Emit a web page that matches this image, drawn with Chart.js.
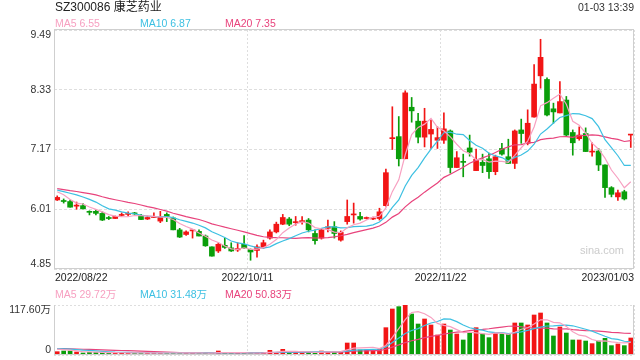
<!DOCTYPE html>
<html>
<head>
<meta charset="utf-8">
<script src="https://cdn.jsdelivr.net/npm/chart.js@4/dist/chart.umd.min.js"></script>
<style>
    html, body { margin: 0; padding: 0; background: #fff; }
    #wrap { position: relative; width: 640px; height: 360px; }
    #wrap canvas { position: absolute; left: 0; top: 0; }
</style>
</head>
<body>
<div id="wrap">
    <canvas id="kline" width="640" height="360"></canvas>
    <canvas id="volume" width="640" height="360"></canvas>
</div>
<script>
// Daily candles, 2022/08/22 .. 2023/01/03 (90 trading days)
const opens = [6.19, 6.18, 6.16, 6.07, 6.08, 5.96, 5.97, 5.93, 5.84, 5.83,
    5.89, 5.91, 5.94, 5.89, 5.82, 5.85, 5.78, 5.91, 5.84, 5.61,
    5.52, 5.59, 5.58, 5.49, 5.28, 5.20, 5.31, 5.26, 5.22, 5.33,
    5.23, 5.21, 5.27, 5.45, 5.57, 5.72, 5.82, 5.75, 5.77, 5.80,
    5.54, 5.45, 5.64, 5.67, 5.41, 5.77, 5.90, 5.87, 5.83, 5.82,
    5.83, 6.08, 7.38, 7.42, 6.99, 7.99, 7.72, 7.41, 7.47, 7.35,
    7.35, 7.53, 6.82, 6.93, 7.20, 6.76, 6.92, 6.99, 6.74, 7.19,
    7.03, 6.90, 7.55, 7.29, 7.80, 8.60, 8.53, 7.96, 7.88, 8.13,
    7.50, 7.38, 7.48, 7.12, 7.14, 6.87, 6.43, 6.25, 6.35, 7.45];
const closes = [6.24, 6.16, 6.05, 6.09, 6.02, 5.95, 5.93, 5.80, 5.83, 5.87,
    5.90, 5.92, 5.92, 5.81, 5.85, 5.86, 5.86, 5.87, 5.61, 5.47,
    5.57, 5.60, 5.49, 5.30, 5.10, 5.33, 5.27, 5.20, 5.25, 5.26,
    5.18, 5.28, 5.36, 5.57, 5.72, 5.85, 5.72, 5.76, 5.78, 5.61,
    5.40, 5.61, 5.67, 5.54, 5.56, 5.87, 5.91, 5.82, 5.84, 5.84,
    5.96, 6.72, 7.40, 6.99, 8.27, 7.92, 7.41, 7.72, 7.56, 7.40,
    7.57, 6.82, 7.01, 6.92, 7.12, 6.98, 6.86, 6.74, 7.03, 7.08,
    6.90, 7.53, 7.48, 7.68, 8.44, 8.96, 7.84, 7.90, 8.10, 7.45,
    7.30, 7.45, 7.13, 7.13, 6.87, 6.43, 6.30, 6.33, 6.21, 7.45];
const highs = [6.27, 6.21, 6.19, 6.15, 6.12, 5.98, 6.00, 5.96, 5.87, 5.88,
    5.94, 5.96, 5.95, 5.91, 5.88, 5.94, 5.97, 5.94, 5.86, 5.64,
    5.59, 5.61, 5.61, 5.51, 5.28, 5.36, 5.45, 5.36, 5.36, 5.50,
    5.24, 5.32, 5.41, 5.61, 5.76, 5.91, 5.85, 5.87, 5.87, 5.83,
    5.61, 5.64, 5.80, 5.77, 5.59, 6.19, 6.13, 5.95, 5.86, 5.86,
    6.03, 6.79, 8.00, 7.81, 8.31, 8.18, 7.87, 7.97, 7.74, 7.61,
    7.88, 7.55, 7.13, 7.08, 7.45, 7.18, 7.08, 7.10, 7.06, 7.29,
    7.37, 7.55, 7.76, 7.94, 8.82, 9.31, 8.56, 8.07, 8.49, 8.20,
    7.55, 7.61, 7.59, 7.30, 7.19, 6.87, 6.45, 6.38, 6.38, 7.45];
const lows = [6.18, 6.13, 6.05, 6.01, 6.01, 5.90, 5.90, 5.79, 5.81, 5.83,
    5.88, 5.88, 5.91, 5.81, 5.81, 5.85, 5.75, 5.77, 5.61, 5.46,
    5.50, 5.45, 5.49, 5.29, 5.10, 5.17, 5.25, 5.19, 5.19, 5.25,
    5.02, 5.08, 5.25, 5.43, 5.55, 5.71, 5.69, 5.70, 5.72, 5.57,
    5.33, 5.43, 5.57, 5.45, 5.39, 5.72, 5.74, 5.80, 5.82, 5.81,
    5.80, 6.07, 7.17, 6.85, 6.99, 7.70, 7.30, 7.22, 7.19, 7.19,
    7.29, 6.71, 6.82, 6.64, 7.04, 6.76, 6.72, 6.61, 6.68, 7.06,
    6.90, 6.80, 7.29, 7.26, 7.80, 8.36, 7.82, 7.68, 7.88, 7.42,
    7.06, 7.35, 7.13, 7.04, 6.76, 6.24, 6.25, 6.18, 6.19, 7.21];
// volume in 万 shares
const volumes = [7.8, 9.4, 9.4, 7.1, 4.7, 6.3, 6.3, 6.3, 4.7, 4.7,
    4.7, 5.5, 4.7, 4.7, 4.7, 5.5, 4.7, 4.7, 5.5, 4.7,
    4.7, 4.7, 4.7, 4.7, 3.9, 9.4, 4.7, 4.7, 4.7, 4.7,
    4.7, 4.7, 6.3, 11.0, 6.3, 13.3, 6.3, 6.3, 6.3, 6.3,
    6.3, 9.4, 7.8, 7.8, 7.8, 28.2, 28.2, 11.8, 11.8, 11.0,
    13.3, 64.3, 108.2, 113.7, 117.6, 96.4, 72.9, 84.7, 70.6, 47.0,
    72.9, 58.8, 49.4, 35.3, 53.3, 64.3, 49.4, 40.8, 53.3, 49.4,
    49.4, 75.3, 75.3, 70.6, 94.1, 98.8, 75.3, 44.7, 65.9, 51.7,
    35.3, 35.3, 32.9, 26.7, 32.9, 39.2, 22.0, 25.9, 22.0, 40.0];
const closesBefore = [6.52, 6.48, 6.40, 6.45, 6.38, 6.42, 6.50, 6.47, 6.40, 6.38,
    6.44, 6.36, 6.40, 6.45, 6.40, 6.46, 6.50, 6.44, 6.11];
const volumesBefore = [16, 18, 14, 15, 17, 16, 13, 15, 17, 14,
    16, 15, 18, 16, 14, 17, 15, 16, 14];

const dateLabels = ['2022/08/22', '2022/10/11', '2022/11/22', '2023/01/03'];
const dateTickPos = [0, 30, 60, 90];
const priceTicks = [9.49, 8.33, 7.17, 6.01, 4.85];
const volumeTicks = [117.6, 0];
const maPeriods = [5, 10, 20];
const priceMaLabels = ['MA5 6.55', 'MA10 6.87', 'MA20 7.35'];
const volumeMaLabels = ['MA5 29.72万', 'MA10 31.48万', 'MA20 50.83万'];

const UP = '#f21515';
const DOWN = '#0a9e0a';
const maColors = ['#f7a0c1', '#3dc0e2', '#e8437c'];
const gridColor = '#dedede';
const frameColor = '#cfcfcf';
const fontFamily = '"Liberation Sans", Arial, "Noto Sans CJK SC", sans-serif';

function movingAverage(values, before, n) {
    const all = before.concat(values);
    return values.map((_, i) => {
        const end = before.length + i;
        let sum = 0;
        for (let k = end - n + 1; k <= end; k++) sum += all[k];
        return sum / n;
    });
}

const xs = closes.map((_, i) => i + 0.5);
const candleColors = closes.map((c, i) => c >= opens[i] ? UP : DOWN);

function maDatasets(values, before) {
    return maPeriods.map((n, k) => ({
        type: 'line',
        label: 'MA' + n,
        data: movingAverage(values, before, n).map((v, i) => ({ x: xs[i], y: v })),
        borderColor: maColors[k],
        borderWidth: 1.2,
        pointRadius: 0,
        tension: 0,
        order: 0
    }));
}

function zeroFit(axis) {
    if (axis.isHorizontal()) axis.height = 0; else axis.width = 0;
}

function xScale() {
    return {
        type: 'linear',
        min: 0,
        max: 90,
        offset: false,
        afterBuildTicks: axis => { axis.ticks = dateTickPos.map(v => ({ value: v })); },
        afterFit: zeroFit,
        ticks: { display: false },
        grid: { color: gridColor, drawTicks: false, offset: false },
        border: { display: false, dash: [2, 2] }
    };
}

function drawText(ctx, text, x, y, color, size, align, baseline) {
    ctx.font = size + 'px ' + fontFamily;
    ctx.fillStyle = color;
    ctx.textAlign = align;
    ctx.textBaseline = baseline;
    ctx.fillText(text, x, y);
}

function tickBaseline(i, count) {
    if (i === 0) return 'top';
    if (i === count - 1) return 'bottom';
    return 'middle';
}

const pricePanel = {
    id: 'pricePanel',
    afterDraw(chart) {
        const { ctx, chartArea: a, scales } = chart;
        ctx.save();
        ctx.strokeStyle = frameColor;
        ctx.lineWidth = 1;
        ctx.strokeRect(Math.round(a.left) + 0.5, Math.round(a.top) - 0.5,
            Math.round(a.width) - 1, Math.round(a.height));

        drawText(ctx, 'SZ300086 康芝药业', 55, 8, '#222', 12, 'left', 'middle');
        drawText(ctx, '01-03 13:39', 634, 8, '#333', 10.5, 'right', 'middle');
        priceMaLabels.forEach((t, k) => {
            drawText(ctx, t, 55 + k * 85, 24, maColors[k], 10.5, 'left', 'middle');
        });

        priceTicks.forEach((v, i) => {
            const y = scales.y.getPixelForValue(v);
            drawText(ctx, v.toFixed(2), a.left - 3, y, '#333', 10.5, 'right', tickBaseline(i, priceTicks.length));
        });

        dateTickPos.forEach((v, i) => {
            const x = scales.x.getPixelForValue(v);
            const align = i === 0 ? 'left' : (i === dateTickPos.length - 1 ? 'right' : 'center');
            drawText(ctx, dateLabels[i], i === 0 ? x + 1 : x, a.bottom + 9, '#222', 10.5, align, 'middle');
        });

        drawText(ctx, 'sina.com', a.right - 10, a.bottom - 18, '#cccccc', 11, 'right', 'middle');
        ctx.restore();
    }
};

const volumePanel = {
    id: 'volumePanel',
    afterDraw(chart) {
        const { ctx, chartArea: a, scales } = chart;
        ctx.save();
        ctx.strokeStyle = frameColor;
        ctx.lineWidth = 1;
        const l = Math.round(a.left) + 0.5, r = Math.round(a.right) - 0.5, b = Math.round(a.bottom) - 0.5;
        ctx.beginPath();
        ctx.moveTo(l, Math.round(a.top));
        ctx.lineTo(l, b);
        ctx.lineTo(r, b);
        ctx.lineTo(r, Math.round(a.top));
        ctx.stroke();

        volumeMaLabels.forEach((t, k) => {
            drawText(ctx, t, 55 + k * 85, a.top - 10, maColors[k], 10.5, 'left', 'middle');
        });
        volumeTicks.forEach((v, i) => {
            const y = scales.y.getPixelForValue(v);
            const text = v === 0 ? '0' : v.toFixed(2) + '万';
            drawText(ctx, text, a.left - 3, y, '#333', 10.5, 'right', tickBaseline(i, volumeTicks.length));
        });
        ctx.restore();
    }
};

Chart.defaults.animation = false;
Chart.defaults.plugins.legend.display = false;
Chart.defaults.plugins.tooltip.enabled = false;

new Chart(document.getElementById('kline'), {
    type: 'bar',
    data: {
        datasets: [
            {
                label: 'wick',
                data: xs.map((x, i) => ({ x: x, y: [lows[i], highs[i]] })),
                backgroundColor: candleColors,
                barThickness: 1,
                grouped: false,
                order: 2
            },
            {
                label: 'body',
                data: xs.map((x, i) => ({ x: x, y: [opens[i], closes[i]] })),
                backgroundColor: candleColors,
                barThickness: 5,
                minBarLength: 1,
                grouped: false,
                order: 1
            },
            ...maDatasets(closes, closesBefore)
        ]
    },
    options: {
        responsive: false,
        devicePixelRatio: 1,
        layout: { padding: { left: 54, right: 6, top: 30, bottom: 91 } },
        scales: {
            x: xScale(),
            y: {
                type: 'linear',
                min: 4.85,
                max: 9.49,
                afterBuildTicks: axis => { axis.ticks = priceTicks.map(v => ({ value: v })); },
                afterFit: zeroFit,
                ticks: { display: false },
                grid: { color: gridColor, drawTicks: false },
                border: { display: false, dash: [3, 2] }
            }
        }
    },
    plugins: [pricePanel]
});

new Chart(document.getElementById('volume'), {
    type: 'bar',
    data: {
        datasets: [
            {
                label: 'volume',
                data: xs.map((x, i) => ({ x: x, y: volumes[i] })),
                backgroundColor: candleColors,
                barThickness: 4,
                grouped: false,
                order: 1
            },
            ...maDatasets(volumes, volumesBefore)
        ]
    },
    options: {
        responsive: false,
        devicePixelRatio: 1,
        layout: { padding: { left: 54, right: 6, top: 305, bottom: 5 } },
        scales: {
            x: xScale(),
            y: {
                type: 'linear',
                min: 0,
                max: 117.6,
                afterBuildTicks: axis => { axis.ticks = volumeTicks.map(v => ({ value: v })); },
                afterFit: zeroFit,
                ticks: { display: false },
                grid: { color: gridColor, drawTicks: false },
                border: { display: false, dash: [2, 2] }
            }
        }
    },
    plugins: [volumePanel]
});
</script>
</body>
</html>
